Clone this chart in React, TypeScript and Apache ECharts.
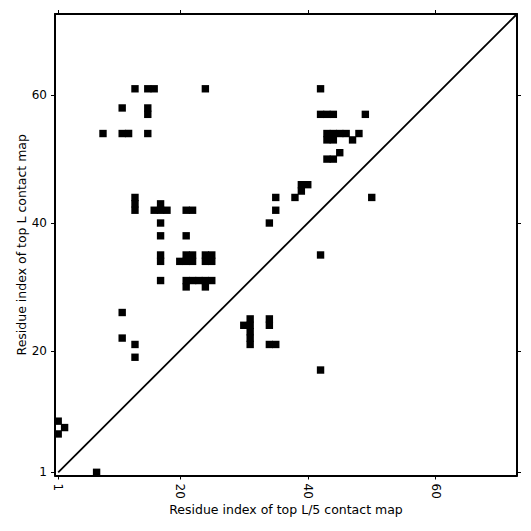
import React, { useEffect, useRef } from "react";
import * as echarts from "echarts";

// contact cells: residue index on x (top L/5 map) and y (top L map)
const contactX = [
  13, 15, 16, 24, 42,
  11, 15,
  15, 42, 43, 44, 49,
  8, 11, 12, 15, 43, 44, 45, 46, 48,
  43, 44, 47,
  45,
  43, 44,
  39, 40,
  39,
  13, 35, 38, 50,
  13, 17,
  13, 16, 17, 18, 21, 22, 35,
  17, 34,
  17, 21,
  17, 21, 22, 24, 25, 42,
  17, 20, 21, 22, 24, 25,
  17, 21, 22, 23, 24, 25,
  21, 24,
  11,
  31, 34,
  30, 31, 34,
  31,
  11, 31,
  13, 31, 34, 35,
  13,
  42,
  1,
  2,
  1,
  7,
];
const contactY = [
  61, 61, 61, 61, 61,
  58, 58,
  57, 57, 57, 57, 57,
  54, 54, 54, 54, 54, 54, 54, 54, 54,
  53, 53, 53,
  51,
  50, 50,
  46, 46,
  45,
  44, 44, 44, 44,
  43, 43,
  42, 42, 42, 42, 42, 42, 42,
  40, 40,
  38, 38,
  35, 35, 35, 35, 35, 35,
  34, 34, 34, 34, 34, 34,
  31, 31, 31, 31, 31, 31,
  30, 30,
  26,
  25, 25,
  24, 24, 24,
  23,
  22, 22,
  21, 21, 21, 21,
  19,
  17,
  9,
  8,
  7,
  1,
];
const tickValues = [1, 20, 40, 60];
const axisMin = 0.5;
const axisMax = 72.7;
const diagonal = [
  [1, 1],
  [72.7, 72.7],
];

const FONT = "DejaVu Sans";

export default function App() {
  const ref = useRef<HTMLDivElement>(null);
  useEffect(() => {
    if (!ref.current) return;
    const chart = echarts.init(ref.current, null, { renderer: "svg" });
    const cells = contactX.map((x, i) => [x, contactY[i]]);
    const baseAxis = (extra: any) => ({
      type: "value",
      min: axisMin,
      max: axisMax,
      splitLine: { show: false },
      axisLine: { show: true, onZero: false, lineStyle: { color: "#000", width: 2 } },
      axisTick: {
        show: true,
        inside: false,
        length: 4,
        lineStyle: { color: "#000", width: 1 },
        customValues: tickValues,
      },
      ...extra,
    });
    chart.setOption({
      animation: false,
      backgroundColor: "#fff",
      grid: { left: 55, top: 14, width: 462, height: 461.5 },
      xAxis: [
        baseAxis({
          position: "bottom",
          name: "Residue index of top L/5 contact map",
          nameLocation: "middle",
          nameGap: 27,
          nameMoveOverlap: false,
          nameTextStyle: { fontFamily: FONT, fontSize: 12.5, color: "#000" },
          axisLabel: {
            customValues: tickValues,
            rotate: -90,
            margin: 8,
            fontFamily: FONT,
            fontSize: 12,
            color: "#000",
          },
        }),
        baseAxis({ position: "top", axisLabel: { show: false } }),
      ],
      yAxis: [
        baseAxis({
          position: "left",
          name: "Residue index of top L contact map",
          nameLocation: "middle",
          nameGap: 27,
          nameMoveOverlap: false,
          nameTextStyle: { fontFamily: FONT, fontSize: 12.5, color: "#000" },
          axisLabel: {
            customValues: tickValues,
            margin: 8,
            fontFamily: FONT,
            fontSize: 12,
            color: "#000",
          },
        }),
        baseAxis({ position: "right", axisLabel: { show: false } }),
      ],
      series: [
        {
          type: "custom",
          xAxisIndex: 0,
          yAxisIndex: 0,
          data: cells,
          renderItem: (params: any, api: any) => {
            const x = api.value(0);
            const y = api.value(1);
            const p1 = api.coord([x - 0.5, y + 0.5]);
            const p2 = api.coord([x + 0.5, y - 0.5]);
            const pad = 0.5;
            return {
              type: "rect",
              shape: {
                x: p1[0] - pad,
                y: p1[1] - pad,
                width: p2[0] - p1[0] + 2 * pad,
                height: p2[1] - p1[1] + 2 * pad,
              },
              style: { fill: "#000" },
            };
          },
        },
        {
          type: "line",
          xAxisIndex: 0,
          yAxisIndex: 0,
          data: diagonal,
          symbol: "none",
          lineStyle: { color: "#000", width: 1.8 },
        },
      ],
    });
    return () => chart.dispose();
  }, []);
  return <div ref={ref} style={{ width: 531, height: 531, margin: -8 }} />;
}
